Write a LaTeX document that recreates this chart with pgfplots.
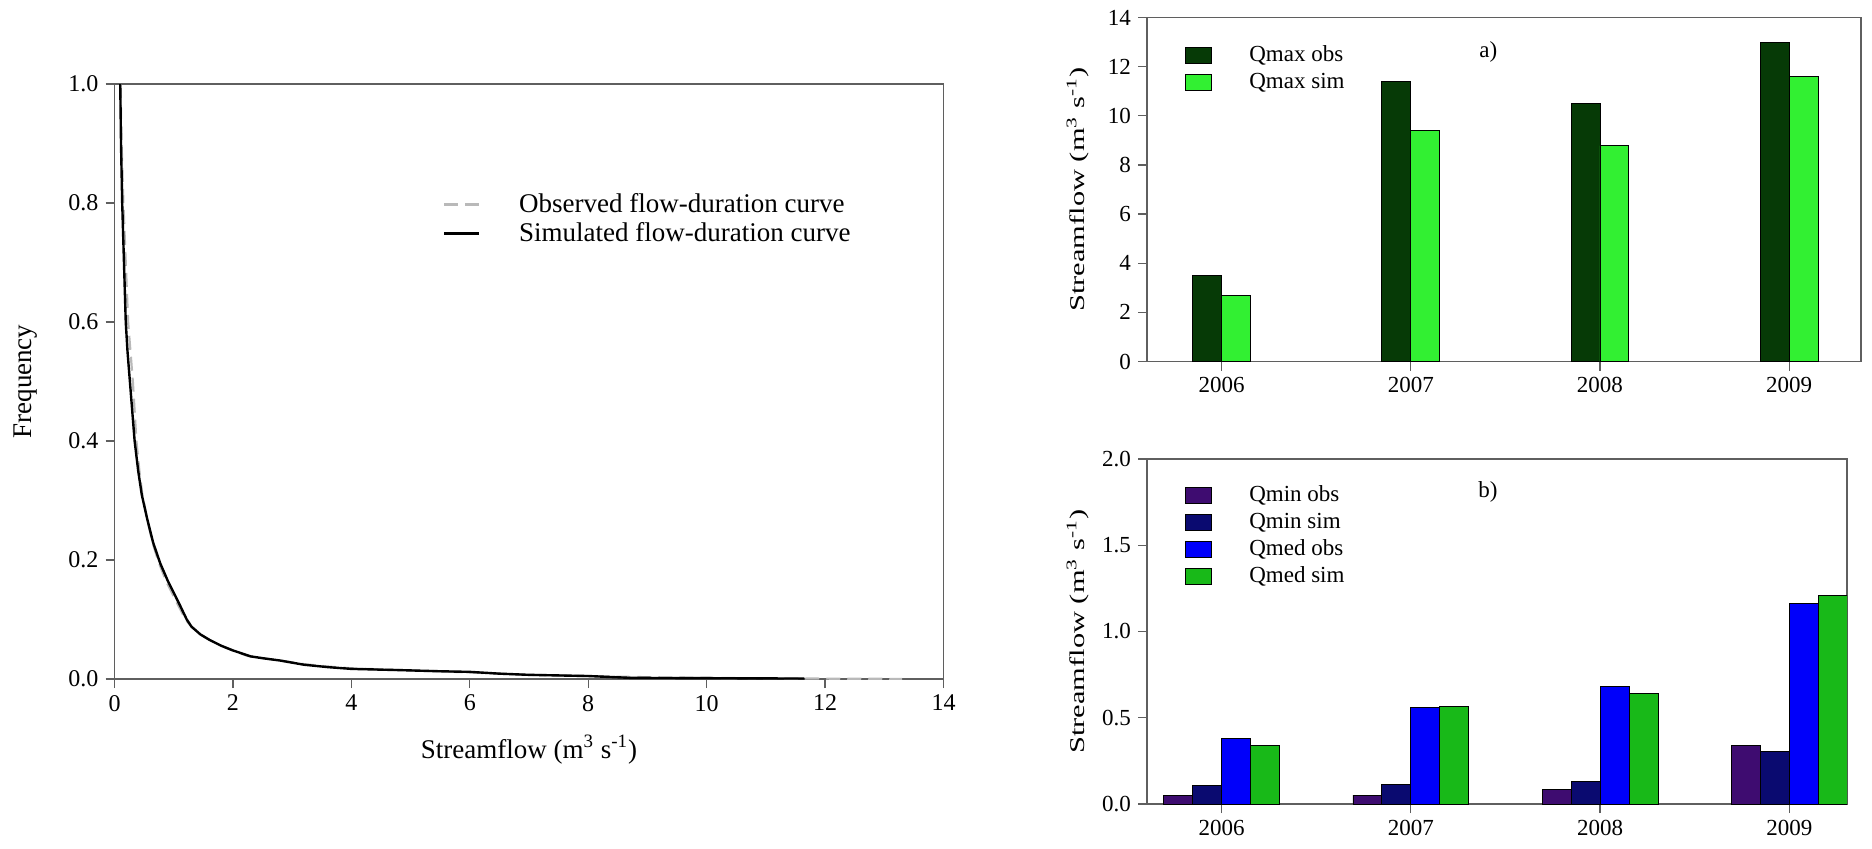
\documentclass[border=0pt]{standalone}
\usepackage{fontspec}
\setmainfont{Liberation Serif}
\usepackage{graphicx}
\usepackage{pgfplots}
\pgfplotsset{compat=1.18}

\definecolor{axisgray}{RGB}{95,95,95}
\definecolor{qmaxobs}{RGB}{6,58,6}
\definecolor{qmaxsim}{RGB}{50,240,50}
\definecolor{qminobs}{RGB}{62,12,112}
\definecolor{qminsim}{RGB}{10,10,112}
\definecolor{qmedobs}{RGB}{0,0,250}
\definecolor{qmedsim}{RGB}{24,185,24}

\newcommand{\qlabel}{\scalebox{1.45}[1]{Streamflow (m\textsuperscript{3} s\textsuperscript{-1})}}

\pgfplotsset{
  panel/.style={
    scale only axis, anchor=south west,
    axis line style={draw=axisgray, line width=0.8pt},
    tick style={draw=axisgray, line width=0.6pt},
    tick align=outside, major tick length=4.5pt,
    xtick pos=bottom, ytick pos=left,
    /pgf/number format/assume math mode=true,
    legend cell align=left,
  },
  boxleg/.style={
    legend image code/.code={\draw[##1] (0pt,-4pt) rectangle (13pt,4pt);},
    legend style={draw=none, fill=none, anchor=north west, inner sep=0pt,
      font=\fontsize{11.5}{13}\selectfont, row sep=2.2pt,
      nodes={inner xsep=0pt, inner ysep=1pt},
      /tikz/every odd column/.append style={column sep=19pt}},
  },
}

\begin{document}
\begin{tikzpicture}
\useasboundingbox (0,0) rectangle (936pt,424pt);

% flow-duration curves
\begin{axis}[panel,
  at={(57.25pt,84.5pt)}, width=414.5pt, height=297.5pt,
  xmin=0, xmax=14, ymin=0, ymax=1,
  xtick={0,2,4,6,8,10,12,14},
  ytick={0,0.2,0.4,0.6,0.8,1},
  yticklabel style={/pgf/number format/.cd, fixed, fixed zerofill, precision=1},
  ticklabel style={font=\fontsize{12}{14}\selectfont},
  xlabel={Streamflow (m\textsuperscript{3} s\textsuperscript{-1})},
  ylabel={Frequency},
  label style={font=\fontsize{13.5}{16}\selectfont},
  xlabel style={at={(axis description cs:0.5,-0.119)}, anchor=center},
  ylabel style={at={(axis description cs:-0.107,0.5)}, anchor=center},
  legend image code/.code={\draw[#1] (0pt,0pt) -- (17.5pt,0pt);},
  legend style={draw=none, fill=none, at={(axis description cs:0.396,0.82)},
    anchor=north west, inner sep=0pt, font=\fontsize{13.5}{16}\selectfont,
    row sep=1.5pt, nodes={inner xsep=0pt, inner ysep=1pt},
    /tikz/every odd column/.append style={column sep=19.3pt}},
]
\addplot[gray!55, line width=1.1pt, dash pattern=on 7pt off 3.5pt] coordinates {
(0.10,1.0) (0.12,0.9) (0.15,0.8) (0.19,0.7) (0.23,0.6) (0.27,0.55) (0.31,0.5)
(0.34,0.45) (0.37,0.40) (0.42,0.35) (0.47,0.31) (0.55,0.27) (0.64,0.23)
(0.75,0.195) (0.87,0.165) (0.97,0.145) (1.07,0.125) (1.2,0.10) (1.3,0.088)
(1.45,0.075) (1.6,0.066) (1.8,0.056) (2.0,0.048) (2.24,0.039) (2.5,0.035)
(2.8,0.031) (3.2,0.025) (3.6,0.021) (4.0,0.018) (4.8,0.015) (5.5,0.013)
(6.0,0.011) (6.5,0.009) (7.0,0.007) (7.5,0.006) (8.0,0.005) (8.5,0.004)
(9.0,0.003) (10.0,0.002) (11.0,0.0012) (11.65,0.0008) (12.5,0.0004) (13.3,0.0002)
};
\addlegendentry{Observed flow-duration curve}
\addplot[black, line width=1.2pt] coordinates {
(0.097,1.0) (0.11,0.9) (0.13,0.8) (0.16,0.7) (0.19,0.6) (0.22,0.55) (0.26,0.5)
(0.30,0.45) (0.34,0.40) (0.40,0.35) (0.46,0.31) (0.55,0.27) (0.65,0.23)
(0.77,0.195) (0.9,0.165) (1.0,0.145) (1.1,0.125) (1.22,0.10) (1.3,0.088)
(1.45,0.075) (1.6,0.066) (1.8,0.056) (2.0,0.048) (2.3,0.038) (2.5,0.035)
(2.8,0.031) (3.2,0.024) (3.6,0.020) (4.0,0.017) (4.8,0.015) (5.5,0.013)
(6.0,0.012) (6.5,0.009) (7.0,0.007) (7.5,0.006) (8.0,0.005) (8.7,0.002)
(9.0,0.0018) (10.0,0.0014) (11.0,0.001) (11.65,0.0008)
};
\addlegendentry{Simulated flow-duration curve}
\end{axis}

% a) maximum flows
\begin{axis}[panel,
  at={(573.5pt,243.25pt)}, width=357pt, height=172pt,
  xmin=-0.394, xmax=3.38, ymin=0, ymax=14,
  xtick={0,1,2,3}, xticklabels={2006,2007,2008,2009},
  ytick={0,2,4,6,8,10,12,14},
  ticklabel style={font=\fontsize{11.5}{13}\selectfont},
  ylabel={\qlabel},
  ylabel style={at={(axis description cs:-0.097,0.5)}, anchor=center,
    font=\fontsize{10.5}{12}\selectfont},
  ybar, bar width=0.153, boxleg,
  legend style={at={(axis description cs:0.052,0.925)}},
]
\addplot[fill=qmaxobs, draw=black, line width=0.4pt, bar shift=-0.0765]
  coordinates {(0,3.51) (1,11.39) (2,10.49) (3,13.0)};
\addlegendentry{Qmax obs}
\addplot[fill=qmaxsim, draw=black, line width=0.4pt, bar shift=0.0765]
  coordinates {(0,2.69) (1,9.42) (2,8.79) (3,11.61)};
\addlegendentry{Qmax sim}
\node[font=\fontsize{11.5}{13}\selectfont] at (axis description cs:0.478,0.9) {a)};
\end{axis}

% b) minimum and mean flows
\begin{axis}[panel,
  at={(573.5pt,22pt)}, width=350pt, height=172.5pt,
  xmin=-0.394, xmax=3.305, ymin=0, ymax=2,
  xtick={0,1,2,3}, xticklabels={2006,2007,2008,2009},
  ytick={0,0.5,1,1.5,2},
  yticklabel style={/pgf/number format/.cd, fixed, fixed zerofill, precision=1},
  ticklabel style={font=\fontsize{11.5}{13}\selectfont},
  ylabel={\qlabel},
  ylabel style={at={(axis description cs:-0.099,0.5)}, anchor=center,
    font=\fontsize{10.5}{12}\selectfont},
  ybar, bar width=0.153, boxleg,
  legend style={at={(axis description cs:0.053,0.93)}},
]
\addplot[fill=qminobs, draw=black, line width=0.4pt, bar shift=-0.2295]
  coordinates {(0,0.048) (1,0.052) (2,0.083) (3,0.342)};
\addlegendentry{Qmin obs}
\addplot[fill=qminsim, draw=black, line width=0.4pt, bar shift=-0.0765]
  coordinates {(0,0.106) (1,0.114) (2,0.132) (3,0.306)};
\addlegendentry{Qmin sim}
\addplot[fill=qmedobs, draw=black, line width=0.4pt, bar shift=0.0765]
  coordinates {(0,0.379) (1,0.561) (2,0.681) (3,1.162)};
\addlegendentry{Qmed obs}
\addplot[fill=qmedsim, draw=black, line width=0.4pt, bar shift=0.2295]
  coordinates {(0,0.338) (1,0.563) (2,0.640) (3,1.211)};
\addlegendentry{Qmed sim}
\node[font=\fontsize{11.5}{13}\selectfont] at (axis description cs:0.487,0.904) {b)};
\end{axis}
\end{tikzpicture}
\end{document}
